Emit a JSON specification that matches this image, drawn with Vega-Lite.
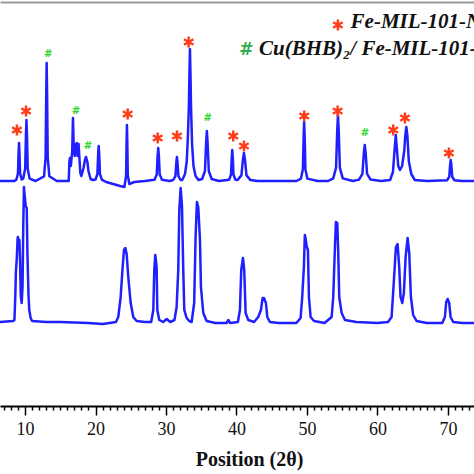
{
  "$schema": "https://vega.github.io/schema/vega-lite/v6.json",
  "width": 474,
  "height": 406,
  "autosize": "none",
  "padding": {"left": 0, "top": 0, "right": 0, "bottom": 68},
  "background": "white",
  "config": {"view": {"stroke": null}},
  "datasets": {
    "xrd": [
      {"series":"top","theta":6.3,"i":225},{"series":"top","theta":8.5,"i":225},
      {"series":"top","theta":8.78,"i":226.5},{"series":"top","theta":9.0,"i":232.6},{"series":"top","theta":9.09,"i":253.5},{"series":"top","theta":9.15,"i":263},{"series":"top","theta":9.21,"i":253.5},{"series":"top","theta":9.3,"i":232.6},{"series":"top","theta":9.52,"i":226.5},
      {"series":"top","theta":9.75,"i":227.4},{"series":"top","theta":10.02,"i":237.2},{"series":"top","theta":10.13,"i":270.8},{"series":"top","theta":10.2,"i":286},{"series":"top","theta":10.28,"i":270.8},{"series":"top","theta":10.38,"i":237.2},{"series":"top","theta":10.65,"i":227.4},
      {"series":"top","theta":11.5,"i":225},
      {"series":"top","theta":12.7,"i":229.7},{"series":"top","theta":12.92,"i":248.6},{"series":"top","theta":13.01,"i":313.5},{"series":"top","theta":13.07,"i":343},{"series":"top","theta":13.13,"i":313.5},{"series":"top","theta":13.22,"i":248.6},{"series":"top","theta":13.45,"i":229.7},
      {"series":"top","theta":14.5,"i":225},{"series":"top","theta":16.2,"i":225},{"series":"top","theta":16.3,"i":245},{"series":"top","theta":16.38,"i":248},{"series":"top","theta":16.5,"i":240},{"series":"top","theta":16.7,"i":255},{"series":"top","theta":16.8,"i":288},{"series":"top","theta":16.9,"i":262},{"series":"top","theta":17.05,"i":250},{"series":"top","theta":17.25,"i":262},{"series":"top","theta":17.35,"i":263},{"series":"top","theta":17.45,"i":250},{"series":"top","theta":17.6,"i":262},{"series":"top","theta":17.7,"i":250},{"series":"top","theta":17.85,"i":233},{"series":"top","theta":18.0,"i":230},{"series":"top","theta":18.3,"i":238},{"series":"top","theta":18.5,"i":246},{"series":"top","theta":18.65,"i":249},{"series":"top","theta":18.85,"i":244},{"series":"top","theta":19.0,"i":235},{"series":"top","theta":19.3,"i":227},{"series":"top","theta":19.6,"i":226},
      {"series":"top","theta":20.0,"i":226.4},{"series":"top","theta":20.27,"i":232},{"series":"top","theta":20.37,"i":251.2},{"series":"top","theta":20.45,"i":260},{"series":"top","theta":20.53,"i":251.2},{"series":"top","theta":20.63,"i":232},{"series":"top","theta":20.9,"i":226.4},
      {"series":"top","theta":21.5,"i":224},{"series":"top","theta":22.5,"i":222},{"series":"top","theta":23.5,"i":220},
      {"series":"top","theta":24.1,"i":219},{"series":"top","theta":24.34,"i":230},{"series":"top","theta":24.41,"i":265},{"series":"top","theta":24.46,"i":281},{"series":"top","theta":24.51,"i":265},{"series":"top","theta":24.58,"i":231},{"series":"top","theta":24.8,"i":222},{"series":"top","theta":25.5,"i":224},{"series":"top","theta":27.0,"i":225},
      {"series":"top","theta":28.38,"i":226.3},{"series":"top","theta":28.69,"i":231.6},{"series":"top","theta":28.81,"i":249.8},{"series":"top","theta":28.9,"i":258},{"series":"top","theta":28.99,"i":249.8},{"series":"top","theta":29.11,"i":231.6},{"series":"top","theta":29.43,"i":226.3},
      {"series":"top","theta":30.5,"i":225},
      {"series":"top","theta":31.03,"i":226},{"series":"top","theta":31.34,"i":229.8},{"series":"top","theta":31.46,"i":243},{"series":"top","theta":31.55,"i":249},{"series":"top","theta":31.64,"i":243},{"series":"top","theta":31.76,"i":229.8},{"series":"top","theta":32.07,"i":226},
      {"series":"top","theta":32.3,"i":226},{"series":"top","theta":32.7,"i":232},{"series":"top","theta":32.95,"i":245},{"series":"top","theta":33.1,"i":268},{"series":"top","theta":33.25,"i":300},{"series":"top","theta":33.32,"i":330},{"series":"top","theta":33.4,"i":357},{"series":"top","theta":33.48,"i":330},{"series":"top","theta":33.55,"i":300},{"series":"top","theta":33.7,"i":262},{"series":"top","theta":33.9,"i":240},{"series":"top","theta":34.2,"i":230},{"series":"top","theta":34.6,"i":226},
      {"series":"top","theta":35.13,"i":227},{"series":"top","theta":35.53,"i":235},{"series":"top","theta":35.69,"i":262.5},{"series":"top","theta":35.8,"i":275},{"series":"top","theta":35.91,"i":262.5},{"series":"top","theta":36.07,"i":235},{"series":"top","theta":36.48,"i":227},
      {"series":"top","theta":37.5,"i":225},
      {"series":"top","theta":38.95,"i":226.2},{"series":"top","theta":39.22,"i":231.2},{"series":"top","theta":39.33,"i":248.3},{"series":"top","theta":39.4,"i":256},{"series":"top","theta":39.48,"i":248.3},{"series":"top","theta":39.58,"i":231.2},{"series":"top","theta":39.85,"i":226.2},
      {"series":"top","theta":40.16,"i":226.1},{"series":"top","theta":40.7,"i":230.6},{"series":"top","theta":40.91,"i":246},{"series":"top","theta":41.06,"i":253},{"series":"top","theta":41.21,"i":246},{"series":"top","theta":41.42,"i":230.6},{"series":"top","theta":41.96,"i":226.1},
      {"series":"top","theta":43,"i":225},{"series":"top","theta":46,"i":225},{"series":"top","theta":48.5,"i":225},
      {"series":"top","theta":49.15,"i":227.4},{"series":"top","theta":49.42,"i":236.8},{"series":"top","theta":49.53,"i":269.3},{"series":"top","theta":49.6,"i":284},{"series":"top","theta":49.68,"i":269.3},{"series":"top","theta":49.78,"i":236.8},{"series":"top","theta":50.05,"i":227.4},
      {"series":"top","theta":51.5,"i":225},{"series":"top","theta":53,"i":225},
      {"series":"top","theta":53.73,"i":227.6},{"series":"top","theta":54.13,"i":238.2},{"series":"top","theta":54.29,"i":274.5},{"series":"top","theta":54.4,"i":291},{"series":"top","theta":54.51,"i":274.5},{"series":"top","theta":54.67,"i":238.2},{"series":"top","theta":55.08,"i":227.6},
      {"series":"top","theta":56.5,"i":225},
      {"series":"top","theta":57.38,"i":226.4},{"series":"top","theta":57.87,"i":232.2},{"series":"top","theta":58.06,"i":252},{"series":"top","theta":58.2,"i":261},{"series":"top","theta":58.34,"i":252},{"series":"top","theta":58.53,"i":232.2},{"series":"top","theta":59.03,"i":226.4},
      {"series":"top","theta":60.5,"i":225},
      {"series":"top","theta":61.8,"i":226},{"series":"top","theta":62.2,"i":234},{"series":"top","theta":62.45,"i":258},{"series":"top","theta":62.6,"i":271},{"series":"top","theta":62.75,"i":258},{"series":"top","theta":62.95,"i":240},{"series":"top","theta":63.2,"i":236},{"series":"top","theta":63.5,"i":240},{"series":"top","theta":63.8,"i":255},{"series":"top","theta":63.95,"i":270},{"series":"top","theta":64.1,"i":279},{"series":"top","theta":64.25,"i":270},{"series":"top","theta":64.45,"i":245},{"series":"top","theta":64.8,"i":232},{"series":"top","theta":65.3,"i":226},
      {"series":"top","theta":67,"i":225},
      {"series":"top","theta":69.88,"i":225.8},{"series":"top","theta":70.19,"i":229.2},{"series":"top","theta":70.31,"i":240.8},{"series":"top","theta":70.4,"i":246},{"series":"top","theta":70.49,"i":240.8},{"series":"top","theta":70.61,"i":229.2},{"series":"top","theta":70.93,"i":225.8},
      {"series":"top","theta":72,"i":225},{"series":"top","theta":74,"i":225},

      {"series":"bottom","theta":6.3,"i":84},{"series":"bottom","theta":8.3,"i":85},{"series":"bottom","theta":8.5,"i":86},{"series":"bottom","theta":8.62,"i":110},{"series":"bottom","theta":8.7,"i":133},{"series":"bottom","theta":8.85,"i":150},{"series":"bottom","theta":8.95,"i":168},{"series":"bottom","theta":9.0,"i":169},{"series":"bottom","theta":9.1,"i":160},{"series":"bottom","theta":9.2,"i":166},{"series":"bottom","theta":9.28,"i":150},{"series":"bottom","theta":9.4,"i":110},{"series":"bottom","theta":9.53,"i":103},{"series":"bottom","theta":9.65,"i":120},{"series":"bottom","theta":9.75,"i":180},{"series":"bottom","theta":9.85,"i":219},{"series":"bottom","theta":9.95,"i":210},{"series":"bottom","theta":10.1,"i":200},{"series":"bottom","theta":10.24,"i":198},{"series":"bottom","theta":10.35,"i":150},{"series":"bottom","theta":10.5,"i":110},{"series":"bottom","theta":10.6,"i":96},{"series":"bottom","theta":10.8,"i":88},{"series":"bottom","theta":11.0,"i":85},{"series":"bottom","theta":13,"i":84},{"series":"bottom","theta":15,"i":84},{"series":"bottom","theta":19,"i":83},{"series":"bottom","theta":21,"i":82},{"series":"bottom","theta":22,"i":83},{"series":"bottom","theta":22.9,"i":84},
      {"series":"bottom","theta":23.23,"i":89},{"series":"bottom","theta":23.57,"i":109},{"series":"bottom","theta":23.85,"i":139},{"series":"bottom","theta":24.04,"i":156},{"series":"bottom","theta":24.23,"i":158},{"series":"bottom","theta":24.42,"i":152},{"series":"bottom","theta":24.65,"i":129},{"series":"bottom","theta":24.99,"i":103},{"series":"bottom","theta":25.36,"i":89},{"series":"bottom","theta":25.84,"i":85},{"series":"bottom","theta":27,"i":84},{"series":"bottom","theta":27.9,"i":84},
      {"series":"bottom","theta":28.2,"i":96},{"series":"bottom","theta":28.34,"i":136},{"series":"bottom","theta":28.48,"i":151},{"series":"bottom","theta":28.67,"i":139},{"series":"bottom","theta":28.77,"i":96},{"series":"bottom","theta":29.05,"i":86},{"series":"bottom","theta":29.6,"i":84},{"series":"bottom","theta":30.1,"i":87},{"series":"bottom","theta":30.6,"i":84},{"series":"bottom","theta":31.2,"i":86},
      {"series":"bottom","theta":31.51,"i":99},{"series":"bottom","theta":31.74,"i":136},{"series":"bottom","theta":31.89,"i":196},{"series":"bottom","theta":32.08,"i":218},{"series":"bottom","theta":32.27,"i":200},{"series":"bottom","theta":32.45,"i":136},{"series":"bottom","theta":32.6,"i":96},{"series":"bottom","theta":32.93,"i":88},{"series":"bottom","theta":33.3,"i":85},{"series":"bottom","theta":33.64,"i":84},
      {"series":"bottom","theta":34.0,"i":103},{"series":"bottom","theta":34.2,"i":169},{"series":"bottom","theta":34.39,"i":204},{"series":"bottom","theta":34.58,"i":199},{"series":"bottom","theta":34.82,"i":166},{"series":"bottom","theta":34.96,"i":119},{"series":"bottom","theta":35.29,"i":93},{"series":"bottom","theta":35.77,"i":85},{"series":"bottom","theta":37,"i":83},{"series":"bottom","theta":38.6,"i":83},{"series":"bottom","theta":38.85,"i":86},{"series":"bottom","theta":39.1,"i":83},{"series":"bottom","theta":40.2,"i":84},
      {"series":"bottom","theta":40.49,"i":96},{"series":"bottom","theta":40.68,"i":136},{"series":"bottom","theta":40.92,"i":148},{"series":"bottom","theta":41.1,"i":136},{"series":"bottom","theta":41.3,"i":93},{"series":"bottom","theta":41.67,"i":86},{"series":"bottom","theta":42.5,"i":84},
      {"series":"bottom","theta":43.09,"i":89},{"series":"bottom","theta":43.47,"i":96},{"series":"bottom","theta":43.71,"i":108},{"series":"bottom","theta":43.9,"i":108},{"series":"bottom","theta":44.18,"i":103},{"series":"bottom","theta":44.37,"i":89},{"series":"bottom","theta":44.75,"i":84},{"series":"bottom","theta":46,"i":83},{"series":"bottom","theta":48.5,"i":83},
      {"series":"bottom","theta":49.1,"i":88},{"series":"bottom","theta":49.33,"i":109},{"series":"bottom","theta":49.57,"i":140},{"series":"bottom","theta":49.7,"i":171},{"series":"bottom","theta":49.8,"i":168},{"series":"bottom","theta":49.95,"i":160},{"series":"bottom","theta":50.14,"i":156},{"series":"bottom","theta":50.28,"i":109},{"series":"bottom","theta":50.52,"i":89},{"series":"bottom","theta":51.0,"i":85},{"series":"bottom","theta":52.5,"i":83},
      {"series":"bottom","theta":53.5,"i":89},{"series":"bottom","theta":53.73,"i":109},{"series":"bottom","theta":53.97,"i":159},{"series":"bottom","theta":54.11,"i":184},{"series":"bottom","theta":54.3,"i":183},{"series":"bottom","theta":54.44,"i":153},{"series":"bottom","theta":54.58,"i":109},{"series":"bottom","theta":54.92,"i":93},{"series":"bottom","theta":55.39,"i":86},{"series":"bottom","theta":57,"i":84},{"series":"bottom","theta":60,"i":83},{"series":"bottom","theta":61.5,"i":84},
      {"series":"bottom","theta":62.01,"i":89},{"series":"bottom","theta":62.34,"i":126},{"series":"bottom","theta":62.62,"i":159},{"series":"bottom","theta":62.86,"i":162},{"series":"bottom","theta":63.09,"i":139},{"series":"bottom","theta":63.28,"i":109},{"series":"bottom","theta":63.52,"i":103},{"series":"bottom","theta":63.75,"i":113},{"series":"bottom","theta":64.0,"i":149},{"series":"bottom","theta":64.28,"i":168},{"series":"bottom","theta":64.51,"i":153},{"series":"bottom","theta":64.75,"i":109},{"series":"bottom","theta":65.07,"i":91},{"series":"bottom","theta":65.56,"i":85},{"series":"bottom","theta":67,"i":83},{"series":"bottom","theta":69.2,"i":83},
      {"series":"bottom","theta":69.57,"i":89},{"series":"bottom","theta":69.76,"i":104},{"series":"bottom","theta":69.96,"i":107},{"series":"bottom","theta":70.18,"i":103},{"series":"bottom","theta":70.38,"i":89},{"series":"bottom","theta":70.75,"i":84},{"series":"bottom","theta":72,"i":83},{"series":"bottom","theta":74,"i":83}
    ],
    "stars": [
      {"theta":8.85,"i":276,"sz":120},{"theta":10.14,"i":295,"sz":120},{"theta":24.56,"i":292,"sz":120},{"theta":28.82,"i":268,"sz":120},{"theta":31.56,"i":270,"sz":120},{"theta":33.22,"i":364,"sz":120},{"theta":39.54,"i":270,"sz":120},{"theta":41.06,"i":260,"sz":120},{"theta":49.61,"i":290,"sz":120},{"theta":54.35,"i":295,"sz":120},{"theta":62.24,"i":276,"sz":120},{"theta":63.9,"i":288,"sz":120},{"theta":70.14,"i":253,"sz":120},
      {"theta":54.39,"i":381,"sz":120}
    ],
    "hashes": [
      {"theta":13.3,"i":352,"label":"#"},{"theta":17.23,"i":295,"label":"#"},{"theta":18.93,"i":260,"label":"#"},{"theta":35.9,"i":288,"label":"#"},{"theta":58.22,"i":273,"label":"#"}
    ],
    "legendhash": [{"theta":41.39,"i":356,"label":"#"}],
    "legendtext": [
      {"theta":56.19,"i":378,"label":"Fe-MIL-101-NH₂"},
      {"theta":43.19,"i":351,"label":"Cu(BHB)₂/ Fe-MIL-101-NH₂"}
    ]
  },
  "layer": [
    {
      "data": {"name": "xrd"},
      "mark": {"type": "line", "color": "#1f1fff", "strokeWidth": 2.5, "clip": true, "strokeJoin": "round"},
      "encoding": {
        "x": {
          "field": "theta", "type": "quantitative",
          "scale": {"domain": [6.45, 73.7], "nice": false, "zero": false},
          "axis": {
            "values": [7,8,9,10,11,12,13,14,15,16,17,18,19,20,21,22,23,24,25,26,27,28,29,30,31,32,33,34,35,36,37,38,39,40,41,42,43,44,45,46,47,48,49,50,51,52,53,54,55,56,57,58,59,60,61,62,63,64,65,66,67,68,69,70,71,72,73],
            "labelExpr": "datum.value % 10 === 0 ? datum.label : ''",
            "tickSize": {"condition": {"test": "datum.value % 10 === 0", "value": 9}, "value": 4},
            "tickWidth": 1.5,
            "tickColor": "#000",
            "domainColor": "#000",
            "domainWidth": 2,
            "grid": false,
            "labelFont": "Liberation Serif",
            "labelFontSize": 18,
            "labelColor": "#111",
            "labelPadding": 5,
            "labelOverlap": false,
            "labelFlush": false,
            "title": "Position (2θ)",
            "titleFont": "Liberation Serif",
            "titleFontSize": 20,
            "titleFontWeight": "bold",
            "titleColor": "#111",
            "titleX": 249,
            "titleY": 59,
            "titleAlign": "center",
            "titleBaseline": "alphabetic"
          }
        },
        "y": {"field": "i", "type": "quantitative", "scale": {"domain": [0, 406], "nice": false, "zero": false}, "axis": null},
        "detail": {"field": "series"}
      }
    },
    {
      "data": {"name": "stars"},
      "mark": {"type": "point", "shape": "M0,-1L0,1M-0.87,-0.5L0.87,0.5M-0.87,0.5L0.87,-0.5", "filled": false, "stroke": "#ff3c1a", "strokeWidth": 2.5, "opacity": 1},
      "encoding": {
        "x": {"field": "theta", "type": "quantitative", "axis": null},
        "y": {"field": "i", "type": "quantitative", "axis": null},
        "size": {"field": "sz", "type": "quantitative", "scale": null}
      }
    },
    {
      "data": {"name": "hashes"},
      "mark": {"type": "text", "font": "DejaVu Sans", "fontWeight": "bold", "fontSize": 10, "color": "#2ed52e", "baseline": "middle", "align": "center"},
      "encoding": {
        "x": {"field": "theta", "type": "quantitative", "axis": null},
        "y": {"field": "i", "type": "quantitative", "axis": null},
        "text": {"field": "label"}
      }
    },
    {
      "data": {"name": "legendhash"},
      "mark": {"type": "text", "font": "DejaVu Sans", "fontWeight": "bold", "fontSize": 17, "color": "#2fae4a", "baseline": "middle", "align": "center"},
      "encoding": {
        "x": {"field": "theta", "type": "quantitative", "axis": null},
        "y": {"field": "i", "type": "quantitative", "axis": null},
        "text": {"field": "label"}
      }
    },
    {
      "data": {"name": "legendtext"},
      "mark": {"type": "text", "font": "Liberation Serif", "fontWeight": "bold", "fontStyle": "italic", "fontSize": 21, "color": "#111", "baseline": "alphabetic", "align": "left"},
      "encoding": {
        "x": {"field": "theta", "type": "quantitative", "axis": {"orient": "top", "labels": false, "ticks": false, "title": null, "grid": false, "domainColor": "#9a9a9a", "domainWidth": 2, "offset": -2}},
        "y": {"field": "i", "type": "quantitative", "axis": null},
        "text": {"field": "label"}
      }
    }
  ],
  "resolve": {"axis": {"x": "independent"}}
}
